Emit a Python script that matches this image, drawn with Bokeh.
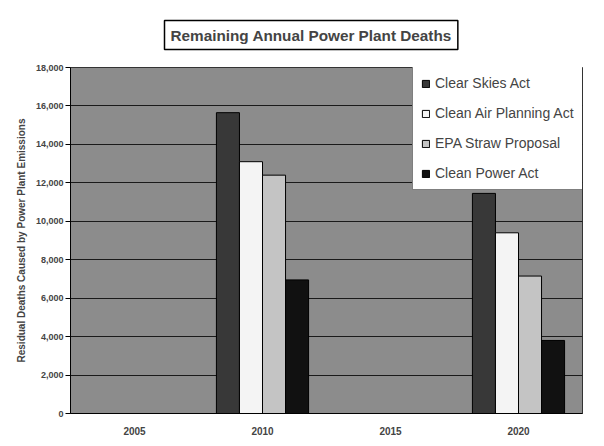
from bokeh.plotting import figure
from bokeh.models import ColumnDataSource, FactorRange, NumeralTickFormatter, Legend, LegendItem, Title, FixedTicker
from bokeh.transform import dodge
from bokeh.embed import file_html
from bokeh.resources import INLINE

years = ["2005", "2010", "2015", "2020"]
bar_years = ["2010", "2020"]
clear_skies = [15650, 11450]
clean_air = [13100, 9400]
epa_straw = [12400, 7150]
clean_power = [6950, 3800]
series_names = ["Clear Skies Act", "Clean Air Planning Act", "EPA Straw Proposal", "Clean Power Act"]
y_ticks = [0, 2000, 4000, 6000, 8000, 10000, 12000, 14000, 16000, 18000]

FONT = "Liberation Sans"
colors = ["#383838", "#f4f4f4", "#c4c4c4", "#111111"]
offsets = [-0.27, -0.09, 0.09, 0.27]

src = ColumnDataSource(dict(year=bar_years, s0=clear_skies, s1=clean_air, s2=epa_straw, s3=clean_power))

p = figure(x_range=FactorRange(*years, range_padding=0), y_range=(0, 18000),
           width=600, height=440, output_backend="svg", toolbar_location=None,
           min_border_left=70, min_border_right=18, min_border_top=50, min_border_bottom=27)

p.background_fill_color = "#8c8c8c"
p.border_fill_color = "white"
p.outline_line_color = "#333333"

renderers = []
for i, key in enumerate(["s0", "s1", "s2", "s3"]):
    r = p.vbar(x=dodge("year", offsets[i], range=p.x_range), top=key, width=0.18, bottom=0,
               source=src, fill_color=colors[i], line_color="black", line_width=1)
    renderers.append(r)

p.xgrid.grid_line_color = None
p.ygrid.grid_line_color = "#1a1a1a"
p.ygrid.grid_line_width = 1
p.yaxis.ticker = FixedTicker(ticks=y_ticks)
p.yaxis.formatter = NumeralTickFormatter(format="0,0")
p.yaxis.minor_tick_line_color = None
p.yaxis.major_tick_in = 0
p.yaxis.major_tick_out = 5
p.yaxis.major_label_standoff = 2
p.yaxis.axis_line_color = "black"
p.yaxis.major_label_text_font = FONT
p.yaxis.major_label_text_font_size = "9px"
p.yaxis.major_label_text_font_style = "bold"
p.yaxis.axis_label = "Residual Deaths Caused by Power Plant Emissions"
p.yaxis.axis_label_text_font = FONT
p.yaxis.axis_label_text_font_size = "10px"
p.yaxis.axis_label_text_font_style = "bold"
p.yaxis.axis_label_standoff = 6

p.xaxis.major_tick_line_color = None
p.xaxis.axis_line_color = "black"
p.xaxis.major_label_standoff = 7
p.xaxis.major_label_text_font = FONT
p.xaxis.major_label_text_font_size = "10px"
p.xaxis.major_label_text_font_style = "bold"

p.title = Title(text="Remaining Annual Power Plant Deaths", align="left", offset=94,
                text_font=FONT, text_font_size="15.3px", text_font_style="bold",
                border_line_color="black", border_line_width=1.5,
                background_fill_color="white", padding=6, standoff=36)

legend = Legend(items=[LegendItem(label=series_names[i], renderers=[renderers[i]]) for i in range(4)],
                location=(342, 223), label_text_font=FONT, label_text_font_size="14px",
                glyph_width=9, glyph_height=9, label_standoff=5, spacing=14, padding=8,
                border_line_color="black", border_line_width=1, background_fill_color="white",
                background_fill_alpha=1.0, margin=0)
p.add_layout(legend, "center")

open("out.html", "w").write(file_html(p, INLINE))
